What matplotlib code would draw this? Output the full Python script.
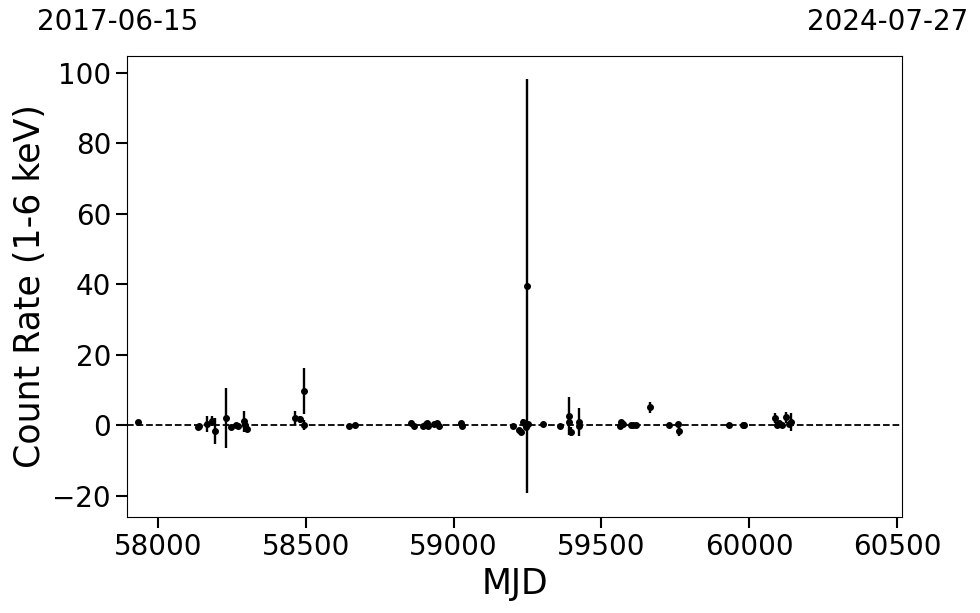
import numpy as np
import matplotlib
matplotlib.use("Agg")
import matplotlib.pyplot as plt

# light curve points (MJD, rate, error)
mjd = [57933, 58134, 58140, 58167, 58184, 58193, 58230, 58247, 58264, 58270,
       58291, 58294, 58300, 58463, 58480, 58494, 58495, 58646, 58666,
       58855, 58866, 58897, 58905, 58911, 58914, 58935, 58945, 58951, 59024, 59029,
       59202, 59222, 59229, 59234, 59238, 59244, 59248, 59252, 59303, 59360,
       59391, 59392, 59398, 59424, 59425, 59563, 59567, 59572, 59599, 59608,
       59617, 59664, 59729, 59760, 59761, 59933, 59978, 59983,
       60089, 60093, 60101, 60110, 60124, 60134, 60142]
rate = [0.8, -0.6, -0.3, 0.3, 1.2, -1.8, 2.0, -0.5, 0.0, -0.2,
        1.1, 0.0, -1.2, 2.1, 1.6, 9.7, 0.0, -0.2, 0.0,
        0.5, -0.3, -0.2, 0.3, 0.7, -0.3, 0.4, 0.5, -0.3, 0.6, -0.2,
        -0.2, -1.5, -1.9, 1.0, 0.5, -0.5, 39.5, 0.2, 0.3, -0.3,
        2.6, 0.8, -1.9, 0.8, -0.2, -0.4, 0.8, 0.2, 0.1, 0.0,
        0.0, 5.0, 0.0, 0.2, -1.7, 0.0, 0.0, 0.0,
        2.1, 0.0, 0.5, 0.0, 2.2, 0.3, 0.8]
err = [0.5, 0.4, 0.4, 2.2, 1.5, 3.7, 8.6, 0.5, 0.4, 0.4,
       3.0, 0.5, 0.6, 2.0, 1.0, 6.5, 1.5, 0.4, 0.4,
       0.4, 0.4, 0.4, 0.4, 0.6, 0.4, 0.4, 0.5, 0.5, 0.6, 0.4,
       0.4, 0.8, 0.8, 0.8, 0.6, 0.6, 58.7, 0.6, 0.4, 0.4,
       5.3, 1.0, 1.3, 4.0, 0.5, 0.5, 0.6, 0.4, 0.4, 0.4,
       0.4, 1.5, 0.4, 0.5, 1.3, 0.4, 0.4, 0.4,
       1.4, 0.4, 0.5, 0.4, 1.5, 0.4, 2.5]

start_label = "2017-06-15"
end_label = "2024-07-27"

fig = plt.figure(figsize=(9.8, 6.13), dpi=100)
ax = fig.add_axes([127 / 980, 1 - 517 / 613, 775 / 980, 461 / 613])

ax.errorbar(mjd, rate, yerr=err, fmt="o", color="black", ms=4, elinewidth=1.7, capsize=0)
ax.axhline(0, color="black", ls="--", lw=1.3)

ax.set_xlim(57895, 60517)
ax.set_ylim(-26.1, 104.8)
ax.set_xticks([58000, 58500, 59000, 59500, 60000, 60500])
ax.set_yticks([-20, 0, 20, 40, 60, 80, 100])
ax.tick_params(labelsize=20, length=8, width=1.5)
ax.set_xlabel("MJD", fontsize=25)
ax.set_ylabel("Count Rate (1-6 keV)", fontsize=25)

fig.text(118 / 980, 1 - 22 / 613, start_label, fontsize=20, ha="center", va="center")
fig.text(888 / 980, 1 - 22 / 613, end_label, fontsize=20, ha="center", va="center")

fig.savefig("out.png", dpi=100)
